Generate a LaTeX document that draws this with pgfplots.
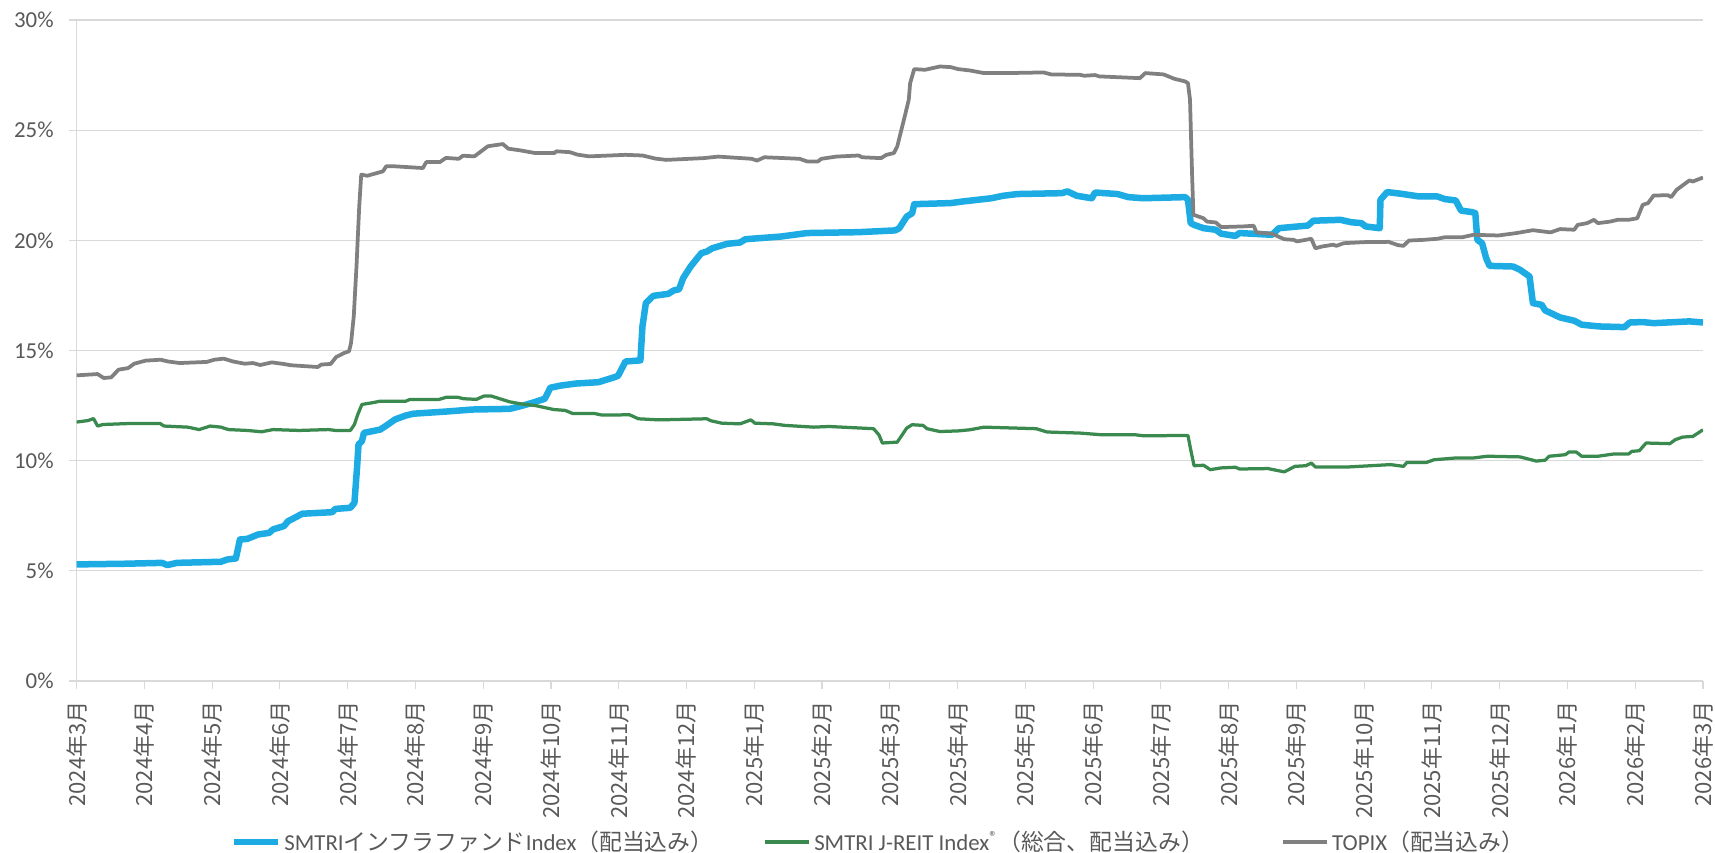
\documentclass[border=0pt]{standalone}
\usepackage{fontspec}
\setmainfont{Carlito}
\newfontfamily\jp{Noto Sans CJK JP}
\usepackage{pgfplots}
\pgfplotsset{compat=1.18}

\definecolor{infra}{RGB}{29,171,228}
\definecolor{reit}{RGB}{58,137,78}
\definecolor{topix}{RGB}{128,128,128}
\definecolor{gridc}{RGB}{217,217,217}
\definecolor{txt}{RGB}{89,89,89}

\begin{document}
\begin{tikzpicture}
\useasboundingbox (-15.32mm,-34.4mm) rectangle (327.7mm,136.2mm);
\begin{axis}[
    scale only axis,
    width=325.3mm,
    height=132.2mm,
    xmin=0, xmax=24,
    ymin=0, ymax=30,
    axis x line*=bottom,
    axis y line*=left,
    axis line style={draw=gridc, line width=0.22mm, -},
    ymajorgrids,
    grid style={draw=gridc, line width=0.22mm},
    tick align=outside,
    major tick length=1.55mm,
    tick style={draw=gridc, line width=0.22mm},
    xtick={0,1,...,24},
    xticklabels={2024年3月,2024年4月,2024年5月,2024年6月,2024年7月,2024年8月,2024年9月,2024年10月,2024年11月,2024年12月,2025年1月,2025年2月,2025年3月,2025年4月,2025年5月,2025年6月,2025年7月,2025年8月,2025年9月,2025年10月,2025年11月,2025年12月,2026年1月,2026年2月,2026年3月},
    xticklabel style={rotate=90, anchor=east, font=\jp\fontsize{12.6}{14}\selectfont, text=txt},
    xticklabel shift=1.2mm,
    ytick={0,5,...,30},
    yticklabel={\fontsize{13}{15}\selectfont\pgfmathprintnumber{\tick}\%},
    yticklabel style={text=txt},
    yticklabel shift=1.8mm,
    /pgf/number format/assume math mode=true,
    legend columns=3,
    legend cell align=left,
    legend style={draw=none, fill=none, at={(0.4934,-0.2436)}, anchor=center,
        font=\fontsize{13}{15}\selectfont, text=txt,
        /tikz/column 2/.style={column sep=9.3mm},
        /tikz/column 4/.style={column sep=14.7mm}},
    legend image code/.code={\draw[#1] (0mm,0mm) -- (8.8mm,0mm);},
]

% SMTRI infra fund index
\addplot[infra, line width=1.3mm, line join=round] coordinates {
(0,5.29) (0.71,5.32) (1.26,5.36) (1.34,5.26) (1.48,5.36) (2.13,5.41) (2.22,5.51) (2.35,5.56)
(2.41,6.42) (2.52,6.45) (2.68,6.65) (2.84,6.72) (2.90,6.88) (3.06,7.03) (3.12,7.25) (3.22,7.41)
(3.33,7.59) (3.77,7.66) (3.82,7.81) (4.04,7.86) (4.10,8.09) (4.14,9.75) (4.16,10.73) (4.21,10.88)
(4.24,11.26) (4.37,11.34) (4.48,11.41) (4.56,11.57) (4.70,11.87) (4.86,12.05) (4.97,12.13)
(5.46,12.23) (5.84,12.32) (6.39,12.35) (6.55,12.47) (6.72,12.62) (6.91,12.81) (6.99,13.31)
(7.15,13.41) (7.37,13.50) (7.70,13.56) (7.94,13.79) (7.99,13.85) (8.10,14.50) (8.32,14.55)
(8.35,16.09) (8.40,17.15) (8.51,17.48) (8.73,17.57) (8.81,17.72) (8.89,17.78) (8.95,18.28)
(9.06,18.81) (9.22,19.42) (9.30,19.49) (9.38,19.64) (9.60,19.84) (9.79,19.90) (9.87,20.05)
(10.39,20.17) (10.78,20.33) (11.54,20.37) (12.08,20.45) (12.14,20.55) (12.25,21.08) (12.33,21.23)
(12.36,21.64) (12.90,21.69) (13.07,21.76) (13.50,21.91) (13.67,22.02) (13.88,22.10) (14.54,22.14)
(14.62,22.22) (14.76,22.02) (14.98,21.91) (15.03,22.17) (15.36,22.10) (15.52,21.96) (15.74,21.91)
(16.36,21.96) (16.40,21.84) (16.44,20.78) (16.49,20.70) (16.63,20.55) (16.81,20.48) (16.89,20.30)
(17.10,20.20) (17.16,20.33) (17.64,20.25) (17.74,20.55) (18.17,20.67) (18.25,20.89) (18.65,20.93)
(18.81,20.82) (18.96,20.78) (19.02,20.63) (19.23,20.55) (19.24,21.84) (19.34,22.19) (19.55,22.11)
(19.81,21.99) (20.08,21.99) (20.19,21.87) (20.35,21.81) (20.43,21.35) (20.59,21.28) (20.64,21.23)
(20.67,20.02) (20.74,19.87) (20.80,19.19) (20.85,18.84) (21.20,18.81) (21.30,18.66) (21.44,18.36)
(21.49,17.15) (21.62,17.07) (21.67,16.82) (21.89,16.50) (22.10,16.35) (22.21,16.17) (22.47,16.09)
(22.84,16.06) (22.92,16.27) (23.11,16.29) (23.27,16.24) (23.80,16.32) (24.00,16.27)
};
\addlegendentry{SMTRI{\jp インフラファンド}Index{\jp （配当込み）}}

% SMTRI J-REIT index
\addplot[reit, line width=0.65mm, line join=round] coordinates {
(0,11.75) (0.17,11.82) (0.25,11.91) (0.31,11.57) (0.39,11.64) (0.82,11.69) (1.23,11.69) (1.29,11.57)
(1.64,11.52) (1.81,11.41) (1.97,11.57) (2.13,11.52) (2.24,11.41) (2.52,11.37) (2.73,11.31) (2.90,11.41)
(3.28,11.37) (3.72,11.41) (3.82,11.37) (4.04,11.37) (4.10,11.64) (4.15,12.10) (4.21,12.55) (4.37,12.63)
(4.48,12.70) (4.86,12.70) (4.92,12.78) (5.35,12.78) (5.46,12.88) (5.62,12.88) (5.71,12.81) (5.90,12.78)
(6.01,12.93) (6.12,12.93) (6.39,12.67) (6.55,12.58) (6.77,12.50) (7.04,12.32) (7.21,12.28) (7.32,12.14)
(7.64,12.14) (7.75,12.07) (8.16,12.08) (8.29,11.90) (8.59,11.85) (9.30,11.90) (9.36,11.81) (9.52,11.70)
(9.79,11.67) (9.95,11.85) (10.01,11.70) (10.28,11.67) (10.45,11.60) (10.88,11.52) (11.10,11.55)
(11.76,11.45) (11.84,11.17) (11.89,10.80) (12.11,10.84) (12.25,11.48) (12.33,11.63) (12.49,11.60)
(12.55,11.45) (12.74,11.32) (13.01,11.35) (13.18,11.40) (13.39,11.52) (14.16,11.45) (14.32,11.30)
(14.81,11.25) (15.14,11.17) (15.63,11.17) (15.74,11.13) (16.40,11.14) (16.44,10.50) (16.49,9.77)
(16.63,9.79) (16.73,9.59) (16.89,9.67) (17.10,9.70) (17.16,9.62) (17.58,9.64) (17.82,9.49) (17.98,9.74)
(18.14,9.77) (18.22,9.89) (18.28,9.71) (18.75,9.71) (19.39,9.82) (19.58,9.74) (19.63,9.92) (19.92,9.92)
(20.03,10.04) (20.35,10.12) (20.61,10.12) (20.82,10.20) (21.30,10.17) (21.54,9.98) (21.67,10.02)
(21.73,10.20) (21.97,10.27) (22.02,10.39) (22.13,10.39) (22.21,10.20) (22.45,10.20) (22.68,10.30)
(22.90,10.30) (22.95,10.42) (23.06,10.45) (23.16,10.80) (23.51,10.77) (23.59,10.95) (23.70,11.07)
(23.85,11.10) (24.00,11.40)
};
\addlegendentry{SMTRI J-REIT Index\textsuperscript{®}{\jp （総合、配当込み）}}

% TOPIX
\addplot[topix, line width=0.75mm, line join=round] coordinates {
(0,13.87) (0.31,13.93) (0.40,13.75) (0.51,13.78) (0.62,14.13) (0.76,14.20) (0.85,14.40) (1.02,14.54)
(1.24,14.58) (1.35,14.50) (1.52,14.43) (1.92,14.48) (2.03,14.58) (2.17,14.63) (2.31,14.50) (2.48,14.40)
(2.60,14.43) (2.71,14.34) (2.88,14.46) (3.05,14.39) (3.16,14.33) (3.56,14.25) (3.61,14.36) (3.75,14.39)
(3.83,14.70) (3.95,14.89) (4.02,14.96) (4.05,15.34) (4.09,16.55) (4.13,18.80) (4.17,21.50) (4.20,22.98)
(4.29,22.93) (4.52,23.13) (4.57,23.36) (4.69,23.36) (5.11,23.28) (5.16,23.55) (5.36,23.55) (5.45,23.74)
(5.64,23.70) (5.70,23.84) (5.87,23.81) (6.07,24.27) (6.29,24.37) (6.37,24.16) (6.55,24.08) (6.77,23.96)
(7.05,23.96) (7.08,24.04) (7.28,24.00) (7.39,23.89) (7.56,23.81) (8.10,23.88) (8.35,23.85) (8.54,23.71)
(8.70,23.65) (9.25,23.73) (9.47,23.80) (9.96,23.70) (10.04,23.62) (10.15,23.77) (10.67,23.70)
(10.78,23.58) (10.94,23.58) (10.99,23.70) (11.21,23.80) (11.54,23.85) (11.59,23.77) (11.87,23.73)
(11.95,23.88) (12.06,23.96) (12.11,24.26) (12.22,25.62) (12.28,26.38) (12.30,27.13) (12.36,27.77)
(12.52,27.74) (12.74,27.89) (12.90,27.86) (13.01,27.77) (13.18,27.71) (13.39,27.59) (13.72,27.59)
(14.27,27.62) (14.38,27.53) (14.81,27.51) (14.87,27.47) (15.03,27.50) (15.09,27.44) (15.69,27.36)
(15.77,27.59) (16.04,27.53) (16.20,27.33) (16.36,27.21) (16.40,27.13) (16.43,26.38) (16.46,23.05)
(16.48,21.16) (16.63,21.00) (16.68,20.85) (16.81,20.81) (16.89,20.60) (17.21,20.63) (17.37,20.66)
(17.41,20.36) (17.64,20.30) (17.82,20.05) (17.96,20.02) (18.01,19.95) (18.22,20.07) (18.28,19.64)
(18.38,19.72) (18.54,19.80) (18.59,19.75) (18.70,19.87) (19.02,19.92) (19.36,19.93) (19.50,19.78)
(19.58,19.75) (19.66,19.99) (19.87,20.02) (20.08,20.07) (20.19,20.14) (20.45,20.14) (20.61,20.25)
(20.98,20.22) (21.25,20.33) (21.49,20.46) (21.75,20.36) (21.89,20.51) (22.10,20.48) (22.15,20.70)
(22.29,20.78) (22.39,20.93) (22.45,20.78) (22.63,20.85) (22.74,20.93) (22.90,20.93) (23.03,21.00)
(23.11,21.61) (23.19,21.69) (23.27,22.03) (23.48,22.05) (23.53,21.96) (23.61,22.29) (23.80,22.72)
(23.85,22.67) (24.00,22.85)
};
\addlegendentry{TOPIX{\jp （配当込み）}}

\end{axis}
\end{tikzpicture}
\end{document}
